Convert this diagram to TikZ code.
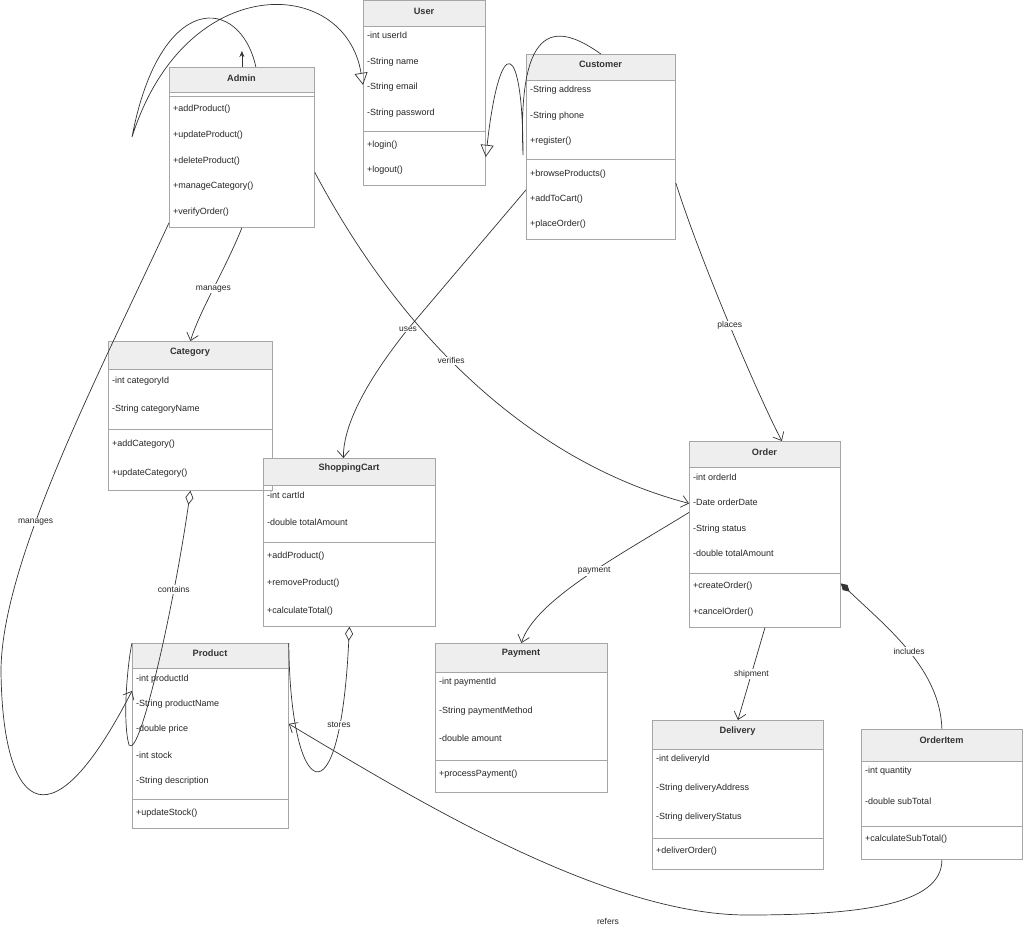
\documentclass[tikz,border=0pt]{standalone}
\usepackage{fontspec}
\setmainfont{Liberation Sans}
\usetikzlibrary{arrows.meta}

\definecolor{boxline}{HTML}{A6A6A6}
\definecolor{headfill}{HTML}{EEEEEE}
\definecolor{titletext}{HTML}{333333}
\definecolor{edgeline}{HTML}{333333}

\tikzset{
  classbody/.style={draw=boxline, line width=0.8pt, anchor=north west, inner sep=0pt},
  classhead/.style={draw=boxline, line width=0.8pt, fill=headfill, anchor=north west, inner sep=0pt},
  classname/.style={font=\fontsize{9.2}{11}\selectfont\bfseries, text=titletext, inner sep=0pt},
  member/.style={font=\fontsize{9}{11}\selectfont, text=black!85, anchor=west, inner sep=0pt, text height=6.5pt, text depth=2pt},
  sepline/.style={draw=boxline, line width=0.8pt},
  rel/.style={draw=edgeline, line width=0.7pt},
  rellabel/.style={font=\fontsize{8.5}{10}\selectfont, text=black!85, fill=white, inner sep=1pt},
  openarrow/.style={-{Straight Barb[length=7pt,width=12pt]}},
  genarrow/.style={-{Triangle[open,length=12pt,width=13pt]}},
  aggr/.style={{Diamond[open,length=14pt,width=8pt]}-},
  compo/.style={{Diamond[length=12pt,width=7pt]}-},
}

\begin{document}
\begin{tikzpicture}[x=1pt, y=-1pt]
		\useasboundingbox (0,0) rectangle (1024,926);
		\fill[white] (0,0) rectangle (1024,926);

		% User
		\node[classbody, minimum width=122pt, minimum height=185pt] (user) at (363,0) {};
		\node[classhead, minimum width=122pt, minimum height=26pt] (userhead) at (363,0) {};
		\node[classname] (usertitle) at (424,11) {User};
		\node[member] (u1) at (367,36) {-int userId};
		\node[member] (u2) at (367,62) {-String name};
		\node[member] (u3) at (367,87) {-String email};
		\node[member] (u4) at (367,113) {-String password};
		\draw[sepline] (363,131) -- (485,131);
		\node[member] (u5) at (367,145) {+login()};
		\node[member] (u6) at (367,170) {+logout()};

		% Admin
		\node[classbody, minimum width=145pt, minimum height=160pt] (admin) at (169,67) {};
		\node[classhead, minimum width=145pt, minimum height=25pt] (adminhead) at (169,67) {};
		\node[classname] (admintitle) at (241.5,78) {Admin};
		\draw[sepline] (169,96) -- (314,96);
		\node[member] (a1) at (173,109) {+addProduct()};
		\node[member] (a2) at (173,135) {+updateProduct()};
		\node[member] (a3) at (173,161) {+deleteProduct()};
		\node[member] (a4) at (173,186) {+manageCategory()};
		\node[member] (a5) at (173,212) {+verifyOrder()};

		% Customer
		\node[classbody, minimum width=149pt, minimum height=185pt] (customer) at (526,54) {};
		\node[classhead, minimum width=149pt, minimum height=26pt] (customerhead) at (526,54) {};
		\node[classname] (customertitle) at (600.5,64) {Customer};
		\node[member] (c1) at (530,90) {-String address};
		\node[member] (c2) at (530,116) {-String phone};
		\node[member] (c3) at (530,141) {+register()};
		\draw[sepline] (526,159) -- (675,159);
		\node[member] (c4) at (530,174) {+browseProducts()};
		\node[member] (c5) at (530,199) {+addToCart()};
		\node[member] (c6) at (530,224) {+placeOrder()};

		% Category
		\node[classbody, minimum width=164pt, minimum height=149pt] (category) at (108,341) {};
		\node[classhead, minimum width=164pt, minimum height=28pt] (categoryhead) at (108,341) {};
		\node[classname] (categorytitle) at (190,352) {Category};
		\node[member] (k1) at (112,381) {-int categoryId};
		\node[member] (k2) at (112,409) {-String categoryName};
		\draw[sepline] (108,429) -- (272,429);
		\node[member] (k3) at (112,444) {+addCategory()};
		\node[member] (k4) at (112,473) {+updateCategory()};

		% ShoppingCart
		\node[classbody, minimum width=172pt, minimum height=168pt] (cart) at (263,458) {};
		\node[classhead, minimum width=172pt, minimum height=27pt] (carthead) at (263,458) {};
		\node[classname] (carttitle) at (349,468) {ShoppingCart};
		\node[member] (s1) at (267,496) {-int cartId};
		\node[member] (s2) at (267,523) {-double totalAmount};
		\draw[sepline] (263,542) -- (435,542);
		\node[member] (s3) at (267,556) {+addProduct()};
		\node[member] (s4) at (267,583) {+removeProduct()};
		\node[member] (s5) at (267,611) {+calculateTotal()};

		% Product
		\node[classbody, minimum width=156pt, minimum height=185pt] (product) at (132,643) {};
		\node[classhead, minimum width=156pt, minimum height=25pt] (producthead) at (132,643) {};
		\node[classname] (producttitle) at (210,653) {Product};
		\node[member] (p1) at (136,679) {-int productId};
		\node[member] (p2) at (136,704) {-String productName};
		\node[member] (p3) at (136,729) {-double price};
		\node[member] (p4) at (136,756) {-int stock};
		\node[member] (p5) at (136,781) {-String description};
		\draw[sepline] (132,799) -- (288,799);
		\node[member] (p6) at (136,813) {+updateStock()};

		% Payment
		\node[classbody, minimum width=172pt, minimum height=149pt] (payment) at (435,643) {};
		\node[classhead, minimum width=172pt, minimum height=29pt] (paymenthead) at (435,643) {};
		\node[classname] (paymenttitle) at (521,653) {Payment};
		\node[member] (y1) at (439,682) {-int paymentId};
		\node[member] (y2) at (439,711) {-String paymentMethod};
		\node[member] (y3) at (439,739) {-double amount};
		\draw[sepline] (435,760) -- (607,760);
		\node[member] (y4) at (439,774) {+processPayment()};

		% Order
		\node[classbody, minimum width=151pt, minimum height=186pt] (order) at (689,441) {};
		\node[classhead, minimum width=151pt, minimum height=26pt] (orderhead) at (689,441) {};
		\node[classname] (ordertitle) at (764.5,452) {Order};
		\node[member] (o1) at (693,478) {-int orderId};
		\node[member] (o2) at (693,503) {-Date orderDate};
		\node[member] (o3) at (693,529) {-String status};
		\node[member] (o4) at (693,554) {-double totalAmount};
		\draw[sepline] (689,573) -- (840,573);
		\node[member] (o5) at (693,586) {+createOrder()};
		\node[member] (o6) at (693,612) {+cancelOrder()};

		% Delivery
		\node[classbody, minimum width=171pt, minimum height=149pt] (delivery) at (652,720) {};
		\node[classhead, minimum width=171pt, minimum height=29pt] (deliveryhead) at (652,720) {};
		\node[classname] (deliverytitle) at (737.5,731) {Delivery};
		\node[member] (d1) at (656,759) {-int deliveryId};
		\node[member] (d2) at (656,788) {-String deliveryAddress};
		\node[member] (d3) at (656,817) {-String deliveryStatus};
		\draw[sepline] (652,838) -- (823,838);
		\node[member] (d4) at (656,851) {+deliverOrder()};

		% OrderItem
		\node[classbody, minimum width=161pt, minimum height=130pt] (orderitem) at (861,729) {};
		\node[classhead, minimum width=161pt, minimum height=32pt] (orderitemhead) at (861,729) {};
		\node[classname] (orderitemtitle) at (941.5,740) {OrderItem};
		\node[member] (i1) at (865,771) {-int quantity};
		\node[member] (i2) at (865,802) {-double subTotal};
		\draw[sepline] (861,826) -- (1022,826);
		\node[member] (i3) at (865,839) {+calculateSubTotal()};

		% Generalizations to User
		\draw[rel, genarrow] ([xshift=14pt]admin.north) .. controls (240,-5) and (160,-10) .. (132,137) .. controls (185,-30) and (345,-25) .. ([yshift=8pt]user.west);
		\draw[rel, -{Stealth[length=6pt,width=5pt]}] (admin.north) -- ++(0,-16);
		\draw[rel, genarrow] (customer.north) .. controls (560,25) and (517,15) .. (523,155) .. controls (523,40) and (500,30) .. ([yshift=-64pt]user.east);

		% Admin associations
		\draw[rel, openarrow] (admin.south) .. controls (225,270) and (200,310) .. (category.north) node[rellabel, pos=0.5] (managescat) {manages};
		\draw[rel, openarrow] ([yshift=5pt]admin.south west) .. controls (100,372) and (2,560) .. (1,670) node[rellabel, pos=0.63] (managesprod) {manages} .. controls (2,800) and (45,860) .. ([yshift=45pt]product.west);
		\draw[rel, openarrow] ([yshift=-25pt]admin.east) .. controls (420,370) and (560,470) .. ([yshift=31pt]order.west) node[rellabel, pos=0.39] (verifies) {verifies};

		% Customer associations
		\draw[rel, openarrow] ([yshift=-43pt]customer.west) -- (408,329) node[rellabel] (uses) {uses} .. controls (375,370) and (343,420) .. ([xshift=-6pt]cart.north);
		\draw[rel, openarrow] ([yshift=-36pt]customer.east) .. controls (700,260) and (760,400) .. ([xshift=17pt]order.north) node[rellabel, pos=0.5] (places) {places};

		% Aggregations
		\draw[rel, aggr] (category.south) .. controls (175,600) and (140,760) .. (129,745) node[rellabel, pos=0.28] (contains) {contains} .. controls (122,720) and (128,660) .. (product.north west);
		\draw[rel, aggr] (cart.south) .. controls (340,830) and (290,800) .. (product.north east) node[rellabel, pos=0.21] (stores) {stores};

		% Order associations
		\draw[rel, openarrow] ([yshift=22pt]order.west) .. controls (620,555) and (535,600) .. (payment.north) node[rellabel, pos=0.45] (paymentlbl) {payment};
		\draw[rel, openarrow] (order.south) -- (delivery.north) node[rellabel, pos=0.5] (shipment) {shipment};
		\draw[rel, compo] ([yshift=-49pt]order.east) .. controls (890,630) and (940,670) .. (orderitem.north) node[rellabel, pos=0.5] (includes) {includes};

		% OrderItem refers to Product
		\draw[rel, openarrow] (orderitem.south) .. controls (942,905) and (860,915) .. (747,915) .. controls (600,915) and (400,790) .. ([yshift=12pt]product.east);
		\node[rellabel] (refers) at (608,921) {refers};
	\end{tikzpicture}
\end{document}
